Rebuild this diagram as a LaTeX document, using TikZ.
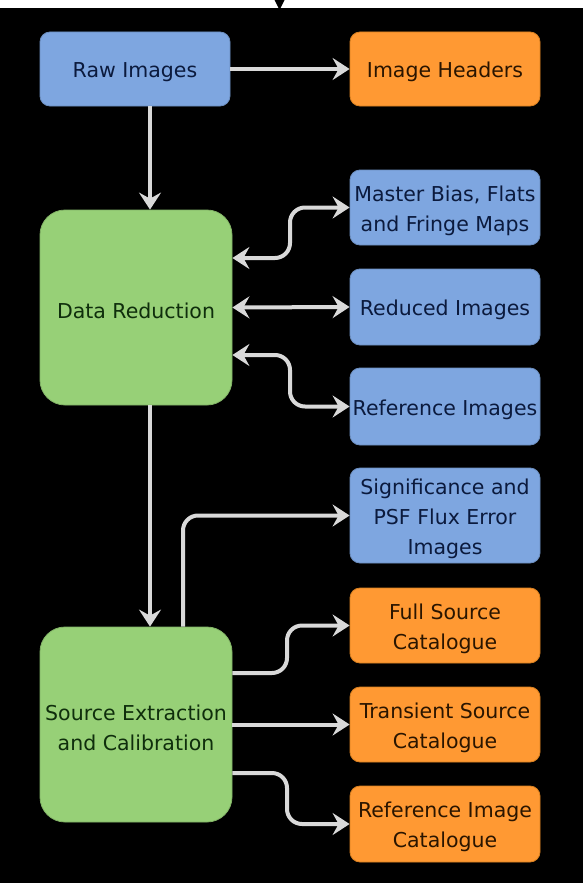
\documentclass[tikz,border=0pt]{standalone}
\usepackage{fontspec}
\setmainfont{DejaVu Sans}
\usetikzlibrary{arrows.meta,calc}
\definecolor{bluefill}{HTML}{7EA6E0}
\definecolor{blueline}{HTML}{6C8EBF}
\definecolor{bluetext}{HTML}{0B1A3D}
\definecolor{orangefill}{HTML}{FF9933}
\definecolor{orangeline}{HTML}{D98020}
\definecolor{orangetext}{HTML}{2A1500}
\definecolor{greenfill}{HTML}{97D077}
\definecolor{greenline}{HTML}{82B366}
\definecolor{greentext}{HTML}{0F2E0C}
\definecolor{arrowgray}{HTML}{D9D9D9}
\newcommand\topstrut{\rule{0pt}{21.5pt}}
\tikzset{
  boxbase/.style={draw, line width=0.8pt, align=center, inner sep=2pt,
    font=\fontsize{20.5}{30}\selectfont},
  bluebox/.style={boxbase, fill=bluefill, draw=blueline, text=bluetext,
    rounded corners=10pt, minimum width=190pt},
  orangebox/.style={boxbase, fill=orangefill, draw=orangeline, text=orangetext,
    rounded corners=10pt, minimum width=190pt},
  greenbox/.style={boxbase, fill=greenfill, draw=greenline, text=greentext,
    rounded corners=25pt, minimum width=192pt, minimum height=195pt},
  conn/.style={draw=arrowgray, line width=4pt, rounded corners=15pt,
    -{Stealth[length=17pt,width=22pt,inset=6pt]}},
  bothconn/.style={conn, {Stealth[length=17pt,width=22pt,inset=6pt]}-{Stealth[length=17pt,width=22pt,inset=6pt]}}
}
\begin{document}
\begin{tikzpicture}[x=1pt,y=-1pt]
\fill[black] (0,0) rectangle (583,883);
\useasboundingbox (0,0) rectangle (583,883);
\fill[white] (0,0) rectangle (583,8);
\fill[black] (274.5,0) -- (284.5,0) -- (279.5,10) -- cycle;

\node[bluebox, minimum height=74pt] (raw) at (135,69) {\topstrut Raw Images};
\node[orangebox, minimum height=74pt] (hdr) at (445,69) {\topstrut Image Headers};
\node[greenbox] (dr) at (136,307.5) {\topstrut Data Reduction};
\node[bluebox, minimum height=75pt] (master) at (445,207.5) {\topstrut Master Bias, Flats\\and Fringe Maps};
\node[bluebox, minimum height=76pt] (reduced) at (445,307) {\topstrut Reduced Images};
\node[bluebox, minimum height=77pt] (refimg) at (445,406.5) {\topstrut Reference Images};
\node[bluebox, minimum height=95pt] (sig) at (445,515.5) {\topstrut Significance and\\PSF Flux Error\\Images};
\node[greenbox] (sec) at (136,724.5) {\topstrut Source Extraction\\and Calibration};
\node[orangebox, minimum height=75pt] (full) at (445,625.5) {\topstrut Full Source\\Catalogue};
\node[orangebox, minimum height=75pt] (trans) at (445,724.5) {\topstrut Transient Source\\Catalogue};
\node[orangebox, minimum height=76pt] (refcat) at (445,824) {\topstrut Reference Image\\Catalogue};

\coordinate (cx150) at (150,0);
\coordinate (cx183) at (183,0);
\coordinate (cx290) at (290,0);
\coordinate (cx287) at (287,0);

% top row
\draw[conn] (raw.east) -- (hdr.west);
\draw[conn] (raw.south -| cx150) -- (dr.north -| cx150);

% data reduction links
\coordinate (d1) at ($(dr.east)+(0,-49.5)$);
\coordinate (d3) at ($(dr.east)+(0,47.5)$);
\draw[bothconn] (d1) -- (d1 -| cx290) -- (cx290 |- master.west) -- (master.west);
\draw[bothconn] (dr.east) -- (reduced.west);
\draw[bothconn] (d3) -- (d3 -| cx290) -- (cx290 |- refimg.west) -- (refimg.west);

% data reduction to source extraction
\draw[conn] (dr.south -| cx150) -- (sec.north -| cx150);

% source extraction outputs
\draw[conn] (sec.north -| cx183) -- (cx183 |- sig.west) -- (sig.west);
\coordinate (s1) at ($(sec.east)+(0,-51.5)$);
\coordinate (s3) at ($(sec.east)+(0,48.5)$);
\draw[conn] (s1) -- (s1 -| cx287) -- (cx287 |- full.west) -- (full.west);
\draw[conn] (sec.east) -- (trans.west);
\draw[conn] (s3) -- (s3 -| cx287) -- (cx287 |- refcat.west) -- (refcat.west);
\end{tikzpicture}
\end{document}
